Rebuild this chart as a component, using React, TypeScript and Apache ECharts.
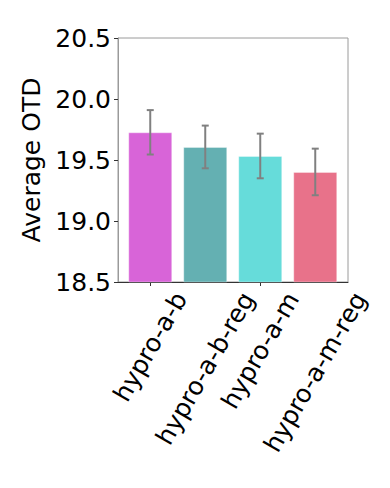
import React, { useEffect, useRef } from "react";
import * as echarts from "echarts";

const categories = ["hypro-a-b", "hypro-a-b-reg", "hypro-a-m", "hypro-a-m-reg"];
const means = [19.727, 19.607, 19.533, 19.402];
const errors = [0.182, 0.175, 0.183, 0.191];
const barColors = ["#D864D8", "#64B0B2", "#66DCDA", "#E8728A"];
const yTicks = { min: 18.5, max: 20.5, interval: 0.5 };

const FONT = "DejaVu Sans";
const FS = 25;
const ROT = 60;

export default function App() {
  const ref = useRef<HTMLDivElement>(null);
  useEffect(() => {
    if (!ref.current) return;
    const chart = echarts.init(ref.current, undefined, { renderer: "svg" });
    const top = 38;
    const bottom = 488 - 282;
    const option: any = {
      animation: false,
      grid: [
        { left: 122.75, width: 220, top, bottom, show: false },
        { left: 118, right: 42, top, bottom, show: true, borderColor: "#9a9a9a", borderWidth: 1, backgroundColor: "transparent" },
      ],
      xAxis: [
        {
          type: "category",
          gridIndex: 0,
          data: categories,
          axisLine: { show: false },
          axisTick: { show: true, alignWithLabel: true, length: 4, lineStyle: { color: "#333", width: 1 } },
          axisLabel: { show: false },
        },
        {
          type: "value",
          gridIndex: 1,
          min: 0,
          max: 1,
          axisLine: { show: true, lineStyle: { color: "#333", width: 1 } },
          axisTick: { show: false },
          axisLabel: { show: false },
          splitLine: { show: false },
        },
      ],
      yAxis: [
        {
          type: "value",
          gridIndex: 0,
          min: yTicks.min,
          max: yTicks.max,
          interval: yTicks.interval,
          show: false,
        },
        {
          type: "value",
          gridIndex: 1,
          min: yTicks.min,
          max: yTicks.max,
          interval: yTicks.interval,
          name: "Average OTD",
          nameLocation: "middle",
          nameGap: 68,
          nameRotate: 90,
          nameTextStyle: { fontSize: FS, fontFamily: FONT, color: "#000" },
          axisLine: { show: true, lineStyle: { color: "#9a9a9a", width: 1 } },
          axisTick: { show: true, length: 4, lineStyle: { color: "#333", width: 1 } },
          axisLabel: {
            margin: 7,
            fontSize: FS,
            fontFamily: FONT,
            color: "#000",
            formatter: (v: number) => v.toFixed(1),
          },
          splitLine: { show: false },
        },
      ],
      series: [
        {
          type: "bar",
          xAxisIndex: 0,
          yAxisIndex: 0,
          barWidth: "80%",
          data: means.map((v, i) => ({
            value: v,
            itemStyle: { color: barColors[i], borderColor: "rgba(255,255,255,0.35)", borderWidth: 1 },
          })),
        },
        {
          type: "custom",
          xAxisIndex: 0,
          yAxisIndex: 0,
          z: 10,
          data: means.map((m, i) => [i, m - errors[i], m + errors[i]]),
          renderItem: (params: any, api: any) => {
            const x = api.value(0);
            const lo = api.coord([x, api.value(1)]);
            const hi = api.coord([x, api.value(2)]);
            const cap = 3.5;
            const style = { stroke: "#808080", lineWidth: 2 };
            return {
              type: "group",
              children: [
                { type: "line", shape: { x1: lo[0], y1: lo[1], x2: hi[0], y2: hi[1] }, style },
                { type: "line", shape: { x1: lo[0] - cap, y1: lo[1], x2: lo[0] + cap, y2: lo[1] }, style },
                { type: "line", shape: { x1: hi[0] - cap, y1: hi[1], x2: hi[0] + cap, y2: hi[1] }, style },
              ],
            };
          },
        },
      ],
    };
    chart.setOption(option);

    const canvas = document.createElement("canvas");
    const ctx = canvas.getContext("2d")!;
    ctx.font = `${FS}px '${FONT}'`;
    const th = (ROT * Math.PI) / 180;
    const lineH = FS * 1.164;
    const axisY = chart.convertToPixel({ yAxisIndex: 0 } as any, yTicks.min) as unknown as number;
    const pad = 5;
    const graphics = categories.map((c, i) => {
      const x = chart.convertToPixel({ xAxisIndex: 0 } as any, i) as unknown as number;
      const L = ctx.measureText(c).width;
      const h = L * Math.sin(th) + lineH * Math.cos(th);
      return {
        type: "text",
        x,
        y: axisY + pad + h / 2,
        rotation: th,
        style: {
          text: c,
          font: `${FS}px '${FONT}'`,
          fill: "#000",
          align: "center",
          verticalAlign: "middle",
        },
      };
    });
    chart.setOption({ graphic: graphics });

    return () => chart.dispose();
  }, []);
  return <div ref={ref} style={{ width: 390, height: 488, position: "absolute", left: 0, top: 0 }} />;
}
